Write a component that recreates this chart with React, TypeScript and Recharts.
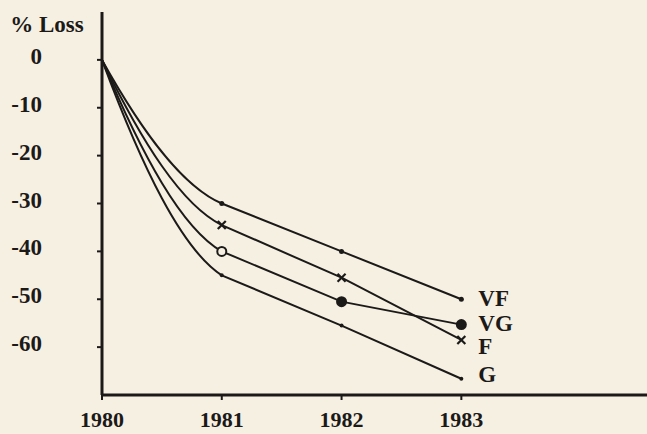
import React from 'react';
import { LineChart, Line, XAxis, YAxis } from 'recharts';

const years = [1980, 1981, 1982, 1983];
const vfLoss = [0, -30, -40, -50];
const fLoss = [0, -34.5, -45.5, -58.5];
const vgLoss = [0, -40, -50.5, -55.3];
const gLoss = [0, -45, -55.5, -66.6];
const yTicks = [0, -10, -20, -30, -40, -50, -60];
const xTicks = [1980, 1981, 1982, 1983];

const data = years.map((year, i) => ({
  year,
  VF: vfLoss[i],
  F: fLoss[i],
  VG: vgLoss[i],
  G: gLoss[i],
}));

const INK = '#1c1a18';
const FONT = '"Liberation Serif", "DejaVu Serif", serif';
const FS = 23;

// First segment curved (decay), remaining segments straight
const decayCurve = (context: any) => {
  let pts: [number, number][] = [];
  return {
    areaStart() {},
    areaEnd() {},
    lineStart() {
      pts = [];
    },
    lineEnd() {
      pts.forEach(([x, y], i) => {
        if (i === 0) context.moveTo(x, y);
        else if (i === 1) {
          const [x0, y0] = pts[0];
          const dx = x - x0;
          const dy = y - y0;
          context.bezierCurveTo(x0 + dx / 3, y0 + dy * 0.5, x0 + (2 * dx) / 3, y0 + dy * 0.88, x, y);
        } else context.lineTo(x, y);
      });
    },
    point(x: number, y: number) {
      pts.push([+x, +y]);
    },
  };
};

const smallDot = (r: number) => (p: any) => {
  if (p.index === 0) return <g key={p.key} />;
  return <circle key={p.key} cx={p.cx} cy={p.cy} r={r} fill={INK} />;
};

const crossDot = (p: any) => {
  if (p.index === 0) return <g key={p.key} />;
  const s = 4;
  return (
    <g key={p.key} stroke={INK} strokeWidth={2.2}>
      <line x1={p.cx - s} y1={p.cy - s} x2={p.cx + s} y2={p.cy + s} />
      <line x1={p.cx - s} y1={p.cy + s} x2={p.cx + s} y2={p.cy - s} />
    </g>
  );
};

const circleDot = (p: any) => {
  if (p.index === 0) return <g key={p.key} />;
  const open = p.index === 1;
  return (
    <circle
      key={p.key}
      cx={p.cx}
      cy={p.cy}
      r={4.5}
      fill={open ? '#f6f0e3' : INK}
      stroke={INK}
      strokeWidth={2}
    />
  );
};

const endLabel = (name: string, dy: number) => (p: any) => {
  if (p.index !== years.length - 1) return null;
  return (
    <text
      key={`lbl-${name}`}
      x={p.x + 17}
      y={p.y + dy}
      dy="0.35em"
      textAnchor="start"
      fontFamily={FONT}
      fontSize={FS}
      fontWeight="bold"
      fill={INK}
    >
      {name}
    </text>
  );
};

const YTick = (p: any) => (
  <text
    x={p.x}
    y={p.y - 4}
    dy="0.35em"
    textAnchor="end"
    fontFamily={FONT}
    fontSize={FS}
    fontWeight="bold"
    fill={INK}
  >
    {p.payload.value}
  </text>
);

const XTick = (p: any) => (
  <text
    x={p.x}
    y={p.y}
    dy="0.35em"
    textAnchor="middle"
    fontFamily={FONT}
    fontSize={22}
    fontWeight="bold"
    fill={INK}
  >
    {p.payload.value}
  </text>
);

const yAxisTitle = (p: any) => {
  const vb = p.viewBox || { x: 0, y: 0, width: 0 };
  return (
    <text
      x={vb.x + 47}
      y={vb.y + 12}
      dy="0.35em"
      textAnchor="middle"
      fontFamily={FONT}
      fontSize={FS}
      fontWeight="bold"
      fill={INK}
    >
      % Loss
    </text>
  );
};

export default function App() {
  return (
    <div
      style={{
        position: 'absolute',
        left: 0,
        top: 0,
        width: 647,
        height: 434,
        background: '#f6f0e3',
      }}
    >
      <LineChart
        width={647}
        height={434}
        data={data}
        margin={{ top: 12, right: 0, bottom: 0, left: 0 }}
      >
        <XAxis
          dataKey="year"
          type="number"
          domain={[1980, 1984.55]}
          ticks={xTicks}
          allowDataOverflow
          height={39}
          axisLine={{ stroke: INK, strokeWidth: 3 }}
          tickLine={{ stroke: INK, strokeWidth: 2 }}
          tickSize={5}
          tickMargin={19}
          tick={<XTick />}
        />
        <YAxis
          type="number"
          domain={[-70, 10]}
          ticks={yTicks}
          allowDataOverflow
          width={102}
          axisLine={{ stroke: INK, strokeWidth: 3 }}
          tickLine={{ stroke: INK, strokeWidth: 2 }}
          tickSize={5}
          tickMargin={55}
          tick={<YTick />}
          label={{ content: yAxisTitle }}
        />
        <Line
          dataKey="VF"
          type={decayCurve as any}
          stroke={INK}
          strokeWidth={2}
          dot={smallDot(2.5)}
          label={endLabel('VF', -1)}
          isAnimationActive={false}
        />
        <Line
          dataKey="F"
          type={decayCurve as any}
          stroke={INK}
          strokeWidth={2}
          dot={crossDot}
          label={endLabel('F', 6)}
          isAnimationActive={false}
        />
        <Line
          dataKey="VG"
          type={decayCurve as any}
          stroke={INK}
          strokeWidth={2}
          dot={circleDot}
          label={endLabel('VG', -2)}
          isAnimationActive={false}
        />
        <Line
          dataKey="G"
          type={decayCurve as any}
          stroke={INK}
          strokeWidth={2}
          dot={smallDot(2)}
          label={endLabel('G', -5)}
          isAnimationActive={false}
        />
      </LineChart>
    </div>
  );
}
